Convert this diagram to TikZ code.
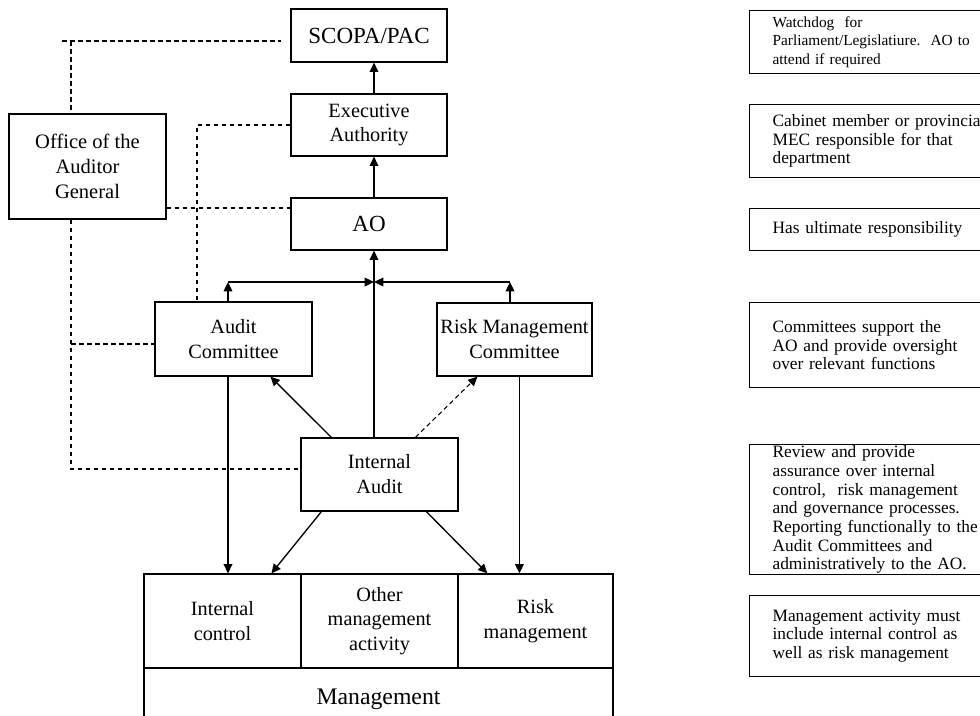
\documentclass[tikz,border=0pt]{standalone}
\usepackage{fontspec}
\setmainfont{Liberation Serif}
\usetikzlibrary{arrows.meta,calc}
\begin{document}
\begin{tikzpicture}[x=0.75pt,y=-0.75pt,
  box/.style={draw, line width=0.9pt, inner sep=0pt, align=center, font=\fontsize{15.2}{18.5}\selectfont},
  bigbox/.style={box, font=\fontsize{17.3}{20}\selectfont},
  note/.style={draw, line width=0.9pt, anchor=north west, inner xsep=17.25pt, inner ysep=0pt,
    minimum width=218.25pt, text width=183.75pt, align=left, font=\fontsize{13}{14}\selectfont},
  arr/.style={line width=1pt, -{Triangle[length=7pt,width=6.5pt]}},
  dline/.style={line width=0.8pt, dash pattern=on 3.5pt off 2.5pt}]
\useasboundingbox (0,0) rectangle (980,715);
% main boxes
\node[bigbox, minimum width=117pt, minimum height=39.75pt] (scopa) at (369,35.5) {SCOPA/PAC};
\node[box, minimum width=117pt, minimum height=46.5pt] (ea) at (369,125) {Executive\\Authority};
\node[bigbox, minimum width=117pt, minimum height=39pt] (ao) at (369,224) {AO};
\node[box, minimum width=117.75pt, minimum height=78.75pt, font=\fontsize{15.4}{18.75}\selectfont] (oag) at (87.5,166.5) {Office of the\\Auditor\\General};
\node[box, minimum width=117.75pt, minimum height=55.5pt, font=\fontsize{15.2}{18.75}\selectfont] (ac) at (233.5,339) {Audit\\Committee};
\node[box, minimum width=116.25pt, minimum height=54.75pt, font=\fontsize{15.2}{18.75}\selectfont] (rmc) at (514.5,339.5) {Risk Management\\Committee};
\node[box, minimum width=117.75pt, minimum height=54.75pt, font=\fontsize{15.2}{18.75}\selectfont] (ia) at (379.5,474.5) {Internal\\Audit};
\node[box, minimum width=117.75pt, minimum height=70.5pt] (ic) at (222.5,621) {Internal\\control};
\node[box, minimum width=117.75pt, minimum height=70.5pt] (oma) at (379.5,621) {Other\\management\\activity};
\node[box, minimum width=116.25pt, minimum height=70.5pt] (rm) at (535.5,621) {Risk\\management};
\node[box, minimum width=351.75pt, minimum height=46.5pt, font=\fontsize{17.8}{20}\selectfont] (mg) at (378.5,699) {Management};
% notes
\node[note, minimum height=47.25pt, font=\fontsize{11.5}{13.9}\selectfont] (n1) at (749,10) {Watchdog\ \ for\\Parliament/Legislatiure.\ \ AO to\\attend if required};
\node[note, minimum height=54.75pt] (n2) at (749,104) {Cabinet member or provincial\\MEC responsible for that\\department};
\node[note, minimum height=31.5pt] (n3) at (749,208) {Has ultimate responsibility};
\node[note, minimum height=63.75pt] (n4) at (749,302) {Committees support the\\AO and provide oversight\\over relevant functions};
\node[note, minimum height=97.5pt] (n5) at (749,444) {Review and provide\\assurance over internal\\control,\ \ risk management\\and governance processes.\\Reporting functionally to the\\Audit Committees and\\administratively to the AO.};
\node[note, minimum height=60.75pt] (n6) at (749,595) {Management activity must\\include internal control as\\well as risk management};
% solid connectors
\coordinate (J) at (374,282);
\coordinate (acT) at (228,282);
\coordinate (rmT) at (510,282);
\draw[arr] (J |- ea.north) -- (J |- scopa.south);
\draw[arr] (J |- ao.north) -- (J |- ea.south);
\draw[arr] (J |- ia.north) -- (J |- ao.south);
\draw[arr] (acT |- ac.north) -- (acT);
\draw[arr] (acT) -- (J);
\draw[arr] (rmT |- rmc.north) -- (rmT);
\draw[arr] (rmT) -- (J);
\draw[arr] ($(ia.north west)+(31,0)$) -- ($(ac.south west)+(116,0)$);
\draw[arr, dline] ($(ia.north west)+(115,0)$) -- ($(rmc.south west)+(41,0)$);
\draw[arr] (acT |- ac.south) -- (acT |- ic.north);
\draw[arr] ($(ia.south west)+(21,0)$) -- ($(ic.north west)+(128,0)$);
\draw[arr] ($(ia.south west)+(126,0)$) -- ($(rm.north west)+(30,0)$);
\draw[arr] ($(rmc.south west)+(83,0)$) -- ($(rm.north west)+(62,0)$);
% dashed connectors
\coordinate (sL) at (62,41);
\coordinate (sR) at (281,41);
\coordinate (dv) at (71,41);
\coordinate (ddn) at (71,469);
\coordinate (dac) at (71,344);
\coordinate (dao) at (166,208);
\coordinate (dea) at (197,125);
\draw[dline] (sL) -- (sR);
\draw[dline] (dv) -- (dv |- oag.north);
\draw[dline] (dv |- oag.south) -- (ddn) -- (ddn -| ia.west);
\draw[dline] (dac) -- (dac -| ac.west);
\draw[dline] (oag.east |- dao) -- (ao.west |- dao);
\draw[dline] (ea.west) -- (dea) -- (dea |- ac.north);
\end{tikzpicture}
\end{document}
